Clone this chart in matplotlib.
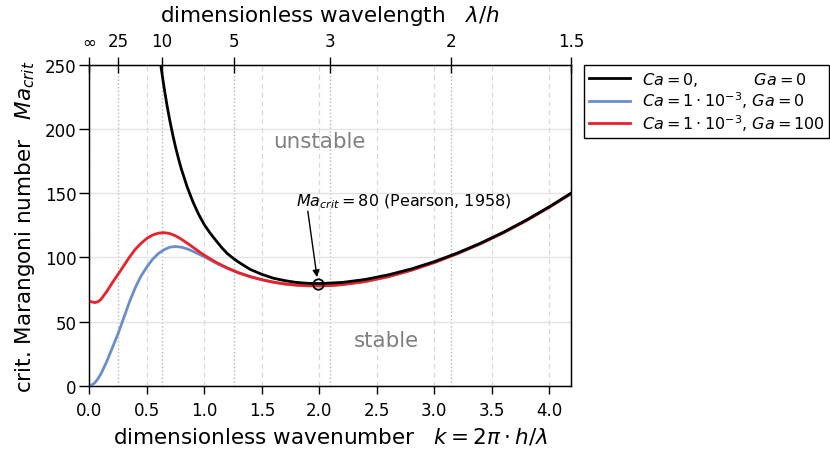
import numpy as np
import matplotlib
matplotlib.use('Agg')
import matplotlib.pyplot as plt

# critical Marangoni number vs. dimensionless wavenumber
k_pearson = [0.600, 0.625, 0.650, 0.675, 0.700, 0.725, 0.750, 0.775, 0.800, 0.850,
             0.900, 0.950, 1.000, 1.050, 1.100, 1.150, 1.200, 1.250, 1.300, 1.400,
             1.500, 1.600, 1.700, 1.800, 1.900, 2.000, 2.200, 2.400, 2.600, 2.800,
             3.000, 3.200, 3.400, 3.600, 3.800, 4.000, 4.190]
ma_pearson = [265.1, 247.8, 232.5, 218.8, 206.7, 195.8, 185.9, 177.1, 169.0, 155.2,
              143.5, 133.7, 125.5, 119.0, 113.3, 107.8, 103.0, 99.4, 96.2, 90.6,
              86.8, 83.8, 81.9, 80.5, 79.8, 79.6, 80.5, 82.8, 86.4, 91.0,
              96.7, 103.4, 111.0, 119.6, 129.1, 139.5, 150.1]

k_defl = [0.00, 0.025, 0.05, 0.075, 0.10, 0.15, 0.20, 0.25, 0.30, 0.35, 0.40, 0.45,
          0.50, 0.55, 0.60, 0.65, 0.70, 0.75, 0.80, 0.85, 0.90, 0.95, 1.00, 1.10,
          1.20, 1.30, 1.40, 1.50, 1.60, 1.70, 1.80, 1.90, 2.00, 2.10, 2.20, 2.40,
          2.60, 2.80, 3.00, 3.20, 3.40, 3.60, 3.80, 4.00, 4.19]
ma_ga0 = [0.0, 0.7, 2.5, 5.4, 9.0, 18.5, 29.5, 40.5, 53.0, 65.5, 76.5, 85.5,
          92.5, 98.5, 103.0, 106.0, 108.0, 108.5, 108.0, 106.7, 104.8, 102.7, 100.5, 95.6,
          91.4, 87.8, 84.9, 82.6, 80.7, 79.3, 78.4, 77.9, 77.8, 78.1, 78.8, 81.2,
          85.0, 90.0, 96.0, 102.9, 110.6, 119.2, 128.7, 139.1, 149.8]
ma_ga100 = [66.0, 65.2, 64.8, 65.4, 67.2, 73.2, 80.2, 86.8, 93.5, 100.3, 106.3, 111.0,
            114.8, 117.4, 118.9, 119.3, 118.6, 116.8, 114.2, 111.2, 108.0, 104.8, 101.7, 96.3,
            91.8, 88.0, 85.0, 82.6, 80.7, 79.3, 78.4, 77.9, 77.8, 78.1, 78.8, 81.2,
            85.0, 90.0, 96.0, 102.9, 110.6, 119.2, 128.7, 139.1, 149.8]

# Pearson (1958) minimum
k_min, ma_min = 1.99, 79.6

# wavelengths shown on the top axis
wavelengths = [np.inf, 25, 10, 5, 3, 2, 1.5]
wavelength_labels = [r'$\infty$', '25', '10', '5', '3', '2', '1.5']
k_top = [2 * np.pi / lam for lam in wavelengths]

fig = plt.figure(figsize=(8.3, 4.56), dpi=100)
ax = fig.add_axes([0.1076, 0.152, 0.5804, 0.7033])

ax.set_xlim(0, 2 * np.pi / 1.5)
ax.set_ylim(0, 250)
ax.set_xticks(np.arange(0, 4.01, 0.5))
ax.set_yticks(np.arange(0, 251, 50))

# grid
ax.grid(axis='y', color='#e3e3e3', lw=1.0, ls='-', zorder=0)
ax.grid(axis='x', color='#d8d8d8', lw=0.9, ls=(0, (4, 3)), zorder=0)
for kk in k_top[1:-1]:
    ax.axvline(kk, color='#b5b5b5', lw=1.0, ls=':', zorder=0)

l2, = ax.plot(k_defl, ma_ga0, color='#6b8dcd', lw=2.0, zorder=3,
              label=r'$Ca=1\cdot10^{-3}$, $Ga=0$')
l3, = ax.plot(k_defl, ma_ga100, color='#ec2027', lw=2.0, zorder=4,
              label=r'$Ca=1\cdot10^{-3}$, $Ga=100$')
l1, = ax.plot(k_pearson, ma_pearson, color='black', lw=2.0, zorder=5,
              label=r'$Ca=0$,           $Ga=0$')

ax.plot([k_min], [ma_min], 'o', ms=7.5, mfc='none', mec='black', mew=1.3, zorder=6)
ax.annotate('', xy=(k_min - 0.01, ma_min + 5), xytext=(1.9, 136),
            arrowprops=dict(arrowstyle='-|>', color='black', lw=1.0,
                            mutation_scale=10, shrinkA=0, shrinkB=0), zorder=6)
ax.text(1.8, 144, r'$Ma_{crit} = 80$ (Pearson, 1958)', fontsize=11.5,
        ha='left', va='center')

ax.text(2.0, 191, 'unstable', fontsize=15.4, color='#7f7f7f', ha='center', va='center')
ax.text(2.58, 36, 'stable', fontsize=15.4, color='#7f7f7f', ha='center', va='center')

ax.set_xlabel(r'dimensionless wavenumber   $k = 2\pi \cdot h/\lambda$', fontsize=15.5,
              labelpad=5)
ax.set_ylabel(r'crit. Marangoni number   $Ma_{crit}$', fontsize=15.5, labelpad=6)
ax.tick_params(axis='x', direction='out', length=6, width=1, labelsize=12, pad=5)
ax.tick_params(axis='y', direction='out', length=7, width=1, labelsize=12, pad=2)

for sp in ax.spines.values():
    sp.set_color('black')
    sp.set_linewidth(1.0)

# top axis: wavelength
ax_top = ax.twiny()
ax_top.set_xlim(ax.get_xlim())
ax_top.set_xticks(k_top)
ax_top.set_xticklabels(wavelength_labels)
ax_top.tick_params(axis='x', direction='inout', length=12, width=1, labelsize=12, pad=5)
ax_top.set_xlabel(r'dimensionless wavelength   $\lambda/h$', fontsize=15.5, labelpad=8)

ax.legend(handles=[l1, l2, l3], loc='upper left', bbox_to_anchor=(1.027, 1.0),
          borderaxespad=0, fontsize=11.5, fancybox=False, edgecolor='black',
          framealpha=1.0, handlelength=2.6, labelspacing=0.12, borderpad=0.3,
          handletextpad=0.7)

fig.savefig('out.png', dpi=100)
